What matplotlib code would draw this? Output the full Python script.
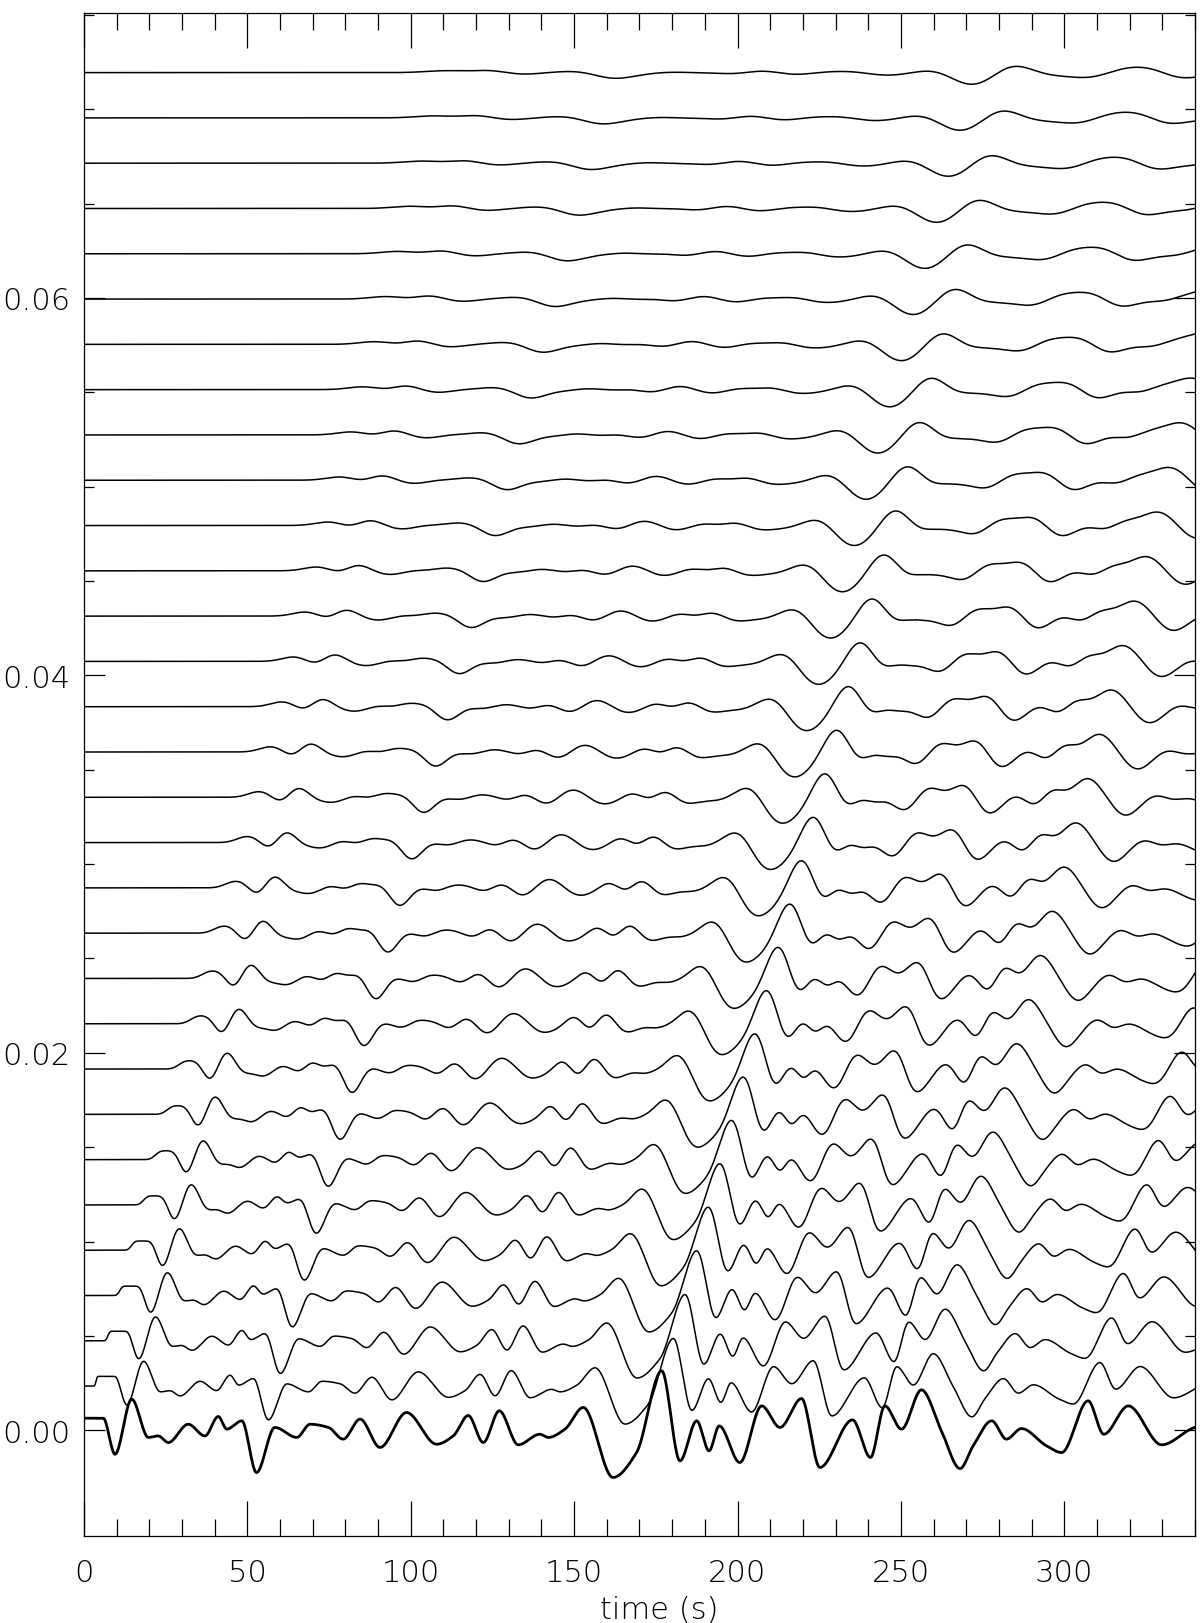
import numpy as np
import matplotlib
matplotlib.use('Agg')
import matplotlib.pyplot as plt

# bottom (reference) trace: extrema, time in s, value in 1e-3
t_ref = [0.0, 5.9, 9.5, 14.6, 19.7, 22.7, 25.8, 31.9, 37.0, 41.1, 43.7, 48.3,
         52.8, 58.4, 65.1, 69.2, 74.8, 79.3, 84.5, 90.6, 98.7, 107.9, 113.0,
         117.6, 122.2, 127.1, 132.9, 139.5, 142.1, 147.2, 152.8, 161.9, 169.1,
         176.8, 182.4, 187.5, 191.3, 194.4, 200.7, 207.4, 213.0, 219.6, 225.2,
         235.2, 240.7, 245.1, 250.2, 256.3, 262.4, 268.1, 272.1, 277.8, 282.3,
         286.9, 294.6, 299.2, 307.3, 312.1, 319.6, 329.8, 340.0]
v_ref = [0.64, 0.64, -1.27, 1.65, -0.38, -0.30, -0.65, 0.32, -0.30, 0.73, 0.06, 0.50,
         -2.24, 0.15, -0.38, 0.32, 0.15, -0.47, 0.59, -0.91, 0.94, -0.74, -0.30,
         0.78, -0.65, 1.03, -0.77, -0.21, -0.38, 0.06, 1.21, -2.50, -1.18,
         3.15, -1.62, 0.50, -1.09, 0.23, -1.71, 1.29, 0.15, 1.68, -1.97,
         0.55, -1.44, 1.29, 0.06, 2.14, -0.03, -2.03, -0.83, 0.50, -0.47,
         0.09, -0.83, -1.18, 1.56, -0.21, 1.29, -0.77, 0.15]

n_traces = 31
spacing = 0.0024      # vertical offset between traces
delay = 3.62          # s, arrival delay per trace
blur = 0.19           # s per trace, smoothing growth
gain0 = 0.82
decay = 60.0


def pchip(x, y, xq):
    x = np.asarray(x, float)
    y = np.asarray(y, float)
    h = np.diff(x)
    d = np.diff(y) / h
    m = np.zeros_like(y)
    for i in range(1, len(x) - 1):
        if d[i - 1] * d[i] > 0:
            w1 = 2 * h[i] + h[i - 1]
            w2 = h[i] + 2 * h[i - 1]
            m[i] = (w1 + w2) / (w1 / d[i - 1] + w2 / d[i])
    m[-1] = 0.5 * d[-1]
    idx = np.clip(np.searchsorted(x, xq) - 1, 0, len(x) - 2)
    hh = h[idx]
    s = (xq - x[idx]) / hh
    return ((2 * s**3 - 3 * s**2 + 1) * y[idx] + (s**3 - 2 * s**2 + s) * hh * m[idx]
            + (-2 * s**3 + 3 * s**2) * y[idx + 1] + (s**3 - s**2) * hh * m[idx + 1])


dt = 0.1
tg = np.arange(-80, 340 + dt / 2, dt)
src = np.where(tg < 0, 0.0, pchip(t_ref, v_ref, np.clip(tg, 0, 340)))
t = np.arange(0, 340 + dt / 2, dt)

fig = plt.figure(figsize=(12, 16.24), dpi=100)
ax = fig.add_axes([0.07, 0.0536, 0.9258, 0.9378])

for k in range(n_traces - 1, 0, -1):
    sig = (blur * k + 0.1) / dt
    kx = np.arange(-int(5 * sig) - 1, int(5 * sig) + 2)
    ker = np.exp(-0.5 * (kx / sig) ** 2)
    ker /= ker.sum()
    sm = np.convolve(np.pad(src, len(kx), mode='edge'), ker, mode='same')[len(kx):-len(kx)]
    y = gain0 * np.exp(-k / decay) * np.interp(t - delay * k, tg, sm, left=0.0)
    ax.plot(t, y * 1e-3 + spacing * k - 0.00006, color='black', lw=1.1)

ax.plot(t, pchip(t_ref, v_ref, t) * 1e-3, color='black', lw=2.0)

ax.set_xlim(0, 340)
ax.set_ylim(-0.0056, 0.0751)
ax.set_xticks(np.arange(0, 301, 50))
ax.set_xticks(np.arange(0, 341, 10), minor=True)
ax.set_yticks([0.0, 0.02, 0.04, 0.06])
ax.set_yticks(np.arange(0, 0.0751, 0.005), minor=True)
ax.set_yticklabels(['0.00', '0.02', '0.04', '0.06'])
ax.tick_params(which='both', direction='in', top=True, right=True, width=0.9,
               labelsize=22, colors='black')
ax.tick_params(axis='x', which='major', length=25, pad=16)
ax.tick_params(axis='x', which='minor', length=12)
ax.tick_params(axis='y', which='major', length=15, pad=10)
ax.tick_params(axis='y', which='minor', length=7.5)
for lab in ax.get_xticklabels() + ax.get_yticklabels():
    lab.set_fontweight('light')
ax.set_xlabel('time (s)', fontsize=22, fontweight='light', va='center')
ax.xaxis.set_label_coords(0.518, -0.048)
for sp in ax.spines.values():
    sp.set_linewidth(0.9)

fig.savefig('out.png', dpi=100)
